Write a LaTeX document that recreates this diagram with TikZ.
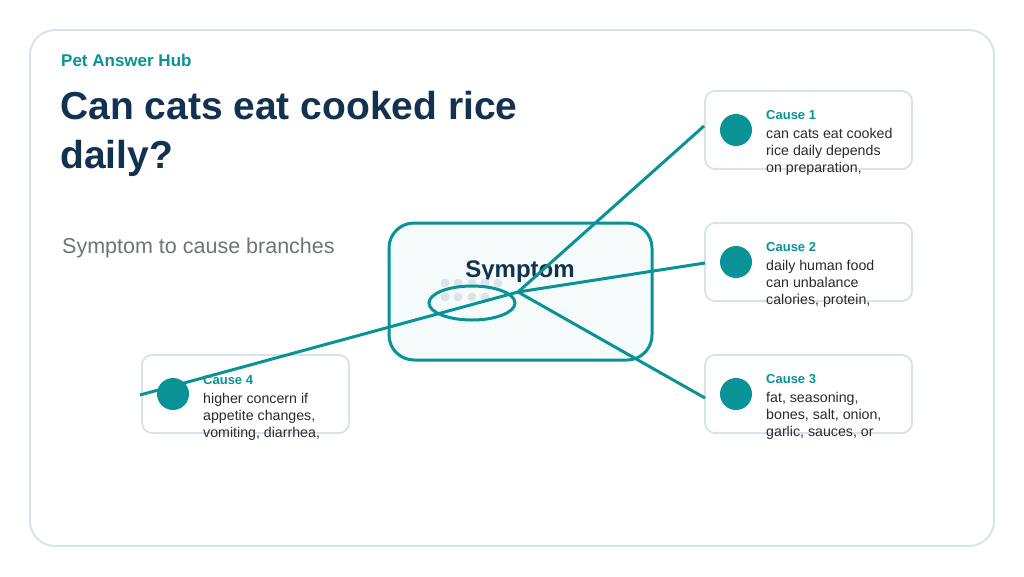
\documentclass[tikz,border=0pt]{standalone}
\usepackage{fontspec}
\setmainfont{Liberation Sans}
\definecolor{teal1}{HTML}{0A9396}
\definecolor{navy}{HTML}{12324F}
\definecolor{frame}{HTML}{D8E2EA}
\definecolor{dotc}{HTML}{DCE4EA}
\definecolor{bodyc}{HTML}{2B2B2B}
\tikzset{
	card/.style={draw=frame, line width=1.8pt, rounded corners=10pt, fill=white},
	branch/.style={draw=teal1, line width=3pt},
	bullet/.style={circle, fill=teal1, minimum size=32pt, inner sep=0pt},
	ctitle/.style={anchor=west, inner sep=0pt, text=teal1, font=\fontsize{13}{15}\selectfont\bfseries},
	cbody/.style={anchor=north west, text=bodyc, align=left, inner sep=0pt, font=\fontsize{14.2}{17}\selectfont},
}
\begin{document}
\begin{tikzpicture}[x=1pt, y=-1pt]
	\useasboundingbox (0,0) rectangle (1024,576);

	% outer frame
	\draw[draw=frame, line width=1.8pt, rounded corners=25pt, fill=white] (30,30) rectangle (994,546);
	\draw (61,60) node[anchor=west, inner sep=0pt, text=teal1, font=\fontsize{17}{20}\selectfont\bfseries] (brand) {Pet Answer Hub};
	\draw (60,91) node[anchor=north west, text=navy, align=left, inner sep=0pt, font=\fontsize{39}{49}\selectfont\bfseries] (title) {Can cats eat cooked rice\\daily?};
	\draw (62,248) node[anchor=west, inner sep=0pt, text=gray!85!navy, font=\fontsize{21.5}{24}\selectfont] (sub) {Symptom to cause branches};

	% cards
	\draw[card] (705,91) rectangle (912,169);
	\draw[card] (705,223) rectangle (912,301);
	\draw[card] (705,355) rectangle (912,433);
	\draw[card] (142,355) rectangle (349,433);

	% symptom box
	\draw[draw=teal1, line width=3pt, rounded corners=25pt, fill=teal1!4] (389,223) rectangle (652,360);
	\draw (520,272) node[text=navy, font=\fontsize{24}{26}\selectfont\bfseries] (symptom) {Symptom};
	\foreach \x in {445,458,472,485,498} \fill[dotc] (\x,283) circle (4.5pt);
	\foreach \x in {445,458,472,485} \fill[dotc] (\x,297) circle (4.5pt);
	\draw[draw=teal1, line width=3pt] (472,303) ellipse (43pt and 17pt);
	\coordinate (hub) at (518,292);

	% bullets
	\node[bullet] (b1) at (736,130) {};
	\node[bullet] (b2) at (736,262) {};
	\node[bullet] (b3) at (736,394) {};
	\node[bullet] (b4) at (173,394) {};
	\coordinate (e1) at (704,126);
	\coordinate (e2) at (705,263);
	\coordinate (e3) at (705,398);
	\coordinate (e4) at (140,395);

	% branches
	\draw[branch] (hub) -- (e1);
	\draw[branch] (hub) -- (e2);
	\draw[branch] (hub) -- (e3);
	\draw[branch] (hub) -- (e4);

	% texts
	\draw (766,115) node[ctitle] (t1) {Cause 1};
	\draw (766,128) node[cbody] {can cats eat cooked\\rice daily depends\\on preparation,};
	\draw (766,247) node[ctitle] (t2) {Cause 2};
	\draw (766,260) node[cbody] {daily human food\\can unbalance\\calories, protein,};
	\draw (766,379) node[ctitle] (t3) {Cause 3};
	\draw (766,392) node[cbody] {fat, seasoning,\\bones, salt, onion,\\garlic, sauces, or};
	\draw (203,380) node[ctitle] (t4) {Cause 4};
	\draw (203,393) node[cbody] {higher concern if\\appetite changes,\\vomiting, diarrhea,};
\end{tikzpicture}
\end{document}
